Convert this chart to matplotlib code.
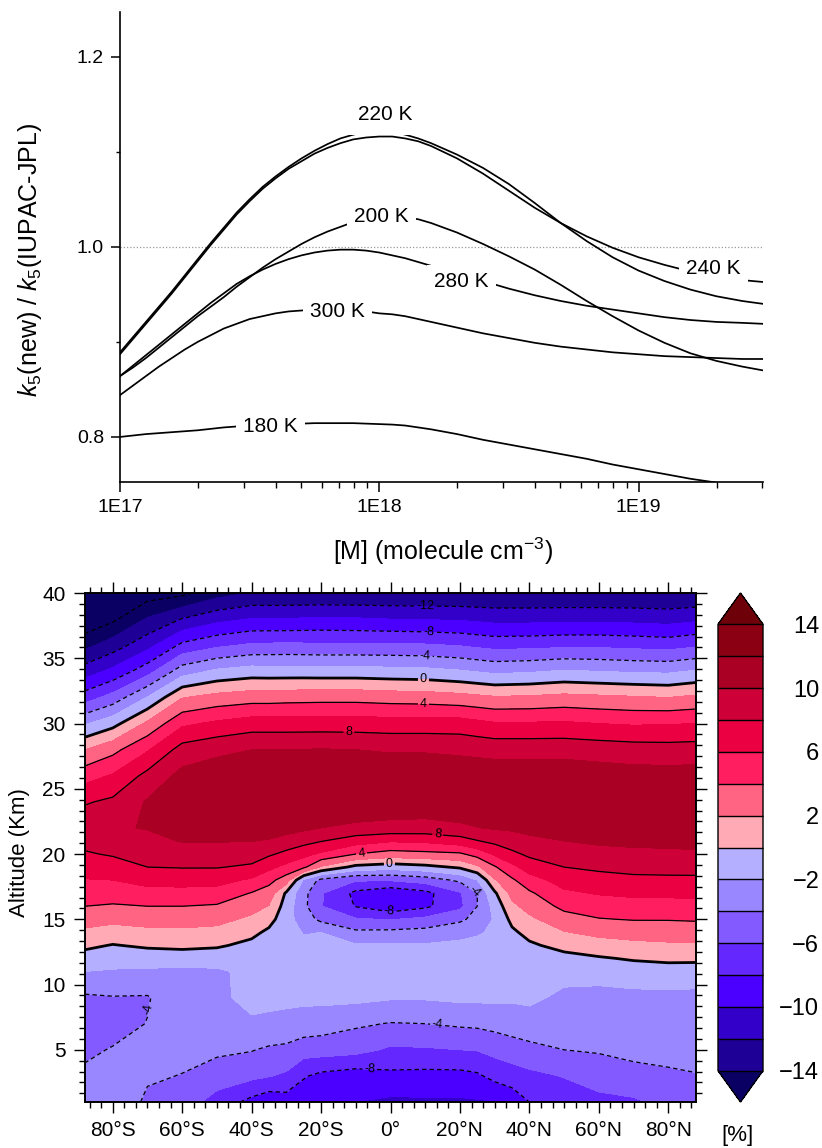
import numpy as np
import matplotlib
matplotlib.use("Agg")
import matplotlib.pyplot as plt
from matplotlib.ticker import AutoMinorLocator, FixedLocator, FuncFormatter, LogLocator, NullFormatter

plt.rcParams["font.family"] = ["Liberation Sans", "DejaVu Sans"]
plt.rcParams["mathtext.fontset"] = "custom"
plt.rcParams["mathtext.rm"] = "Liberation Sans"
plt.rcParams["mathtext.it"] = "Liberation Sans:italic"

# ---------------- top panel: k5(new)/k5(IUPAC-JPL) vs [M] ----------------
M_CONC = [1.000e17, 1.122e17, 1.259e17, 1.413e17, 1.585e17, 1.778e17, 1.995e17, 2.239e17,
          2.512e17, 2.818e17, 3.162e17, 3.548e17, 3.981e17, 4.467e17, 5.012e17, 5.623e17,
          6.310e17, 7.079e17, 7.943e17, 8.913e17, 1.000e18, 1.122e18, 1.259e18, 1.413e18,
          1.585e18, 1.995e18, 2.512e18, 3.162e18, 3.981e18, 5.012e18, 6.310e18, 7.943e18,
          1.000e19, 1.259e19, 1.585e19, 1.995e19, 2.512e19, 3.020e19]

RATIO_180K = [0.800, 0.8015, 0.803, 0.804, 0.805, 0.806, 0.807, 0.8085, 0.810, 0.811,
              0.812, 0.8125, 0.813, 0.8135, 0.814, 0.8145, 0.8145, 0.8145, 0.8145, 0.814,
              0.8135, 0.813, 0.812, 0.810, 0.808, 0.803, 0.797, 0.792, 0.787, 0.782,
              0.777, 0.771, 0.766, 0.761, 0.756, 0.752, 0.748, 0.745]
RATIO_200K = [0.864, 0.873, 0.883, 0.894, 0.905, 0.916, 0.927, 0.937, 0.947, 0.958,
              0.968, 0.978, 0.987, 0.995, 1.003, 1.010, 1.016, 1.021, 1.026, 1.029,
              1.031, 1.032, 1.031, 1.029, 1.025, 1.015, 1.003, 0.990, 0.976, 0.960,
              0.943, 0.927, 0.912, 0.899, 0.888, 0.880, 0.874, 0.870]
RATIO_220K = [0.889, 0.905, 0.921, 0.937, 0.953, 0.970, 0.987, 1.004, 1.020, 1.036,
              1.050, 1.063, 1.074, 1.084, 1.093, 1.101, 1.108, 1.114, 1.118, 1.121,
              1.122, 1.121, 1.118, 1.114, 1.109, 1.097, 1.083, 1.066, 1.046, 1.025,
              1.006, 0.989, 0.975, 0.964, 0.955, 0.948, 0.943, 0.940]
RATIO_240K = [0.887, 0.903, 0.919, 0.935, 0.951, 0.968, 0.985, 1.002, 1.018, 1.034,
              1.048, 1.061, 1.072, 1.082, 1.090, 1.098, 1.104, 1.109, 1.113, 1.115,
              1.116, 1.116, 1.114, 1.111, 1.106, 1.093, 1.077, 1.059, 1.041, 1.025,
              1.011, 0.999, 0.989, 0.981, 0.974, 0.969, 0.965, 0.963]
RATIO_280K = [0.864, 0.875, 0.886, 0.897, 0.908, 0.919, 0.930, 0.941, 0.951, 0.961,
              0.969, 0.976, 0.982, 0.987, 0.991, 0.994, 0.996, 0.997, 0.997, 0.996,
              0.994, 0.991, 0.988, 0.984, 0.980, 0.972, 0.964, 0.956, 0.949, 0.943,
              0.938, 0.934, 0.930, 0.926, 0.923, 0.921, 0.920, 0.919]
RATIO_300K = [0.844, 0.854, 0.864, 0.874, 0.883, 0.892, 0.900, 0.907, 0.914, 0.919,
              0.924, 0.927, 0.930, 0.932, 0.933, 0.934, 0.934, 0.934, 0.933, 0.932,
              0.930, 0.929, 0.927, 0.924, 0.921, 0.915, 0.909, 0.904, 0.899, 0.895,
              0.892, 0.889, 0.887, 0.885, 0.884, 0.883, 0.882, 0.882]

# ---------------- bottom panel: zonal-mean change [%] ----------------
LATS = [-88, -80, -70, -60, -50, -40, -35, -30, -25, -20, -10, 0, 10, 20, 25, 30, 35,
        40, 50, 60, 70, 80, 88]
ALTS = [1, 3, 5, 7, 9, 11, 12, 13, 14, 15, 16, 17, 18, 19, 20, 21, 22, 24, 26, 28,
        30, 32, 34, 36, 38, 40]
# one altitude profile per latitude (bottom -> top)
CHANGE_BY_LAT = [
    [-3.4, -3.7, -4.3, -5.0, -4.3, -2.0, -0.8, 0.4, 1.6, 2.8, 4.0, 5.0, 5.9, 6.9, 7.8, 8.6, 9.4, 7.8, 5.2, 2.0, -2.2, -7.0, -11.0, -14.6, -17.7, -19.5],
    [-2.8, -3.2, -3.9, -4.6, -4.1, -2.2, -1.1, -0.1, 1.2, 2.5, 3.8, 4.9, 6.0, 7.1, 8.2, 9.3, 9.8, 8.4, 6.2, 3.4, -0.7, -5.2, -9.5, -13.0, -16.4, -19.0],
    [-4.3, -3.8, -3.4, -3.95, -4.15, -2.3, -1.1, 0.3, 1.5, 2.8, 4.0, 5.3, 6.7, 8.0, 8.8, 9.5, 10.1, 10.2, 8.6, 5.8, 2.4, -1.9, -6.8, -10.7, -13.8, -17.0],
    [-5.0, -4.05, -3.56, -3.1, -2.6, -2.4, -1.1, 0.5, 1.6, 2.8, 4.0, 5.35, 6.75, 8.1, 9.1, 10.1, 10.6, 11.0, 10.6, 8.8, 5.6, 1.9, -2.9, -7.55, -11.9, -16.5],
    [-6.8, -5.0, -3.6, -2.7, -2.3, -2.3, -1.1, 0.25, 1.4, 2.6, 3.8, 5.2, 6.7, 8.1, 9.1, 10.1, 11.0, 11.5, 11.2, 9.5, 6.4, 2.7, -1.6, -6.4, -10.6, -14.8],
    [-8.6, -5.5, -3.9, -2.2, -1.6, -1.5, -1.2, -0.5, 0.5, 1.6, 2.75, 3.9, 5.7, 7.7, 8.9, 10.05, 11.0, 11.6, 11.5, 10.0, 7.0, 3.1, -1.05, -5.7, -9.9, -13.9],
    [-9.4, -5.9, -4.3, -2.3, -1.65, -1.5, -1.3, -0.9, -0.4, 0.7, 1.9, 3.1, 4.6, 6.5, 8.3, 9.85, 10.9, 11.6, 11.5, 10.0, 7.0, 3.1, -1.1, -5.65, -9.9, -13.9],
    [-9.0, -6.3, -4.5, -2.4, -1.7, -1.5, -1.4, -1.4, -1.3, -1.2, -0.9, -0.3, 3.0, 5.45, 7.5, 9.25, 10.8, 11.6, 11.5, 10.0, 7.0, 3.2, -1.1, -5.6, -9.9, -13.9],
    [-9.4, -7.8, -5.1, -2.8, -1.6, -1.3, -1.3, -1.6, -2.1, -3.0, -3.5, -3.4, -2.3, 4.4, 6.6, 8.7, 10.4, 11.6, 11.55, 10.05, 7.0, 3.25, -1.1, -5.65, -9.8, -13.9],
    [-9.6, -8.5, -5.06, -3.1, -1.5, -1.2, -1.2, -1.4, -2.0, -4.5, -5.9, -5.8, -4.5, 1.8, 5.7, 8.1, 10.0, 11.6, 11.6, 10.1, 7.0, 3.3, -1.15, -5.7, -9.7, -13.9],
    [-10.0, -9.0, -5.35, -3.7, -1.5, -1.2, -1.3, -1.8, -3.6, -5.8, -8.1, -8.5, -5.8, -0.6, 4.0, 6.9, 9.6, 11.5, 11.6, 10.0, 7.0, 3.3, -1.15, -5.7, -9.8, -13.9],
    [-10.4, -8.5, -6.3, -4.1, -1.8, -1.0, -1.2, -1.8, -3.5, -6.1, -9.4, -9.6, -5.8, -1.1, 3.2, 6.2, 9.4, 11.3, 11.4, 9.8, 6.9, 3.1, -1.3, -5.7, -10.0, -13.9],
    [-10.3, -8.6, -6.2, -4.0, -1.8, -1.0, -1.2, -1.8, -3.3, -5.5, -8.4, -8.6, -5.1, -0.6, 3.45, 6.4, 9.3, 11.3, 11.4, 9.8, 6.9, 3.0, -1.4, -5.8, -10.1, -13.9],
    [-10.3, -8.6, -6.0, -3.7, -1.6, -1.0, -1.2, -1.6, -2.6, -4.4, -6.5, -6.2, -3.6, 0.3, 3.7, 7.1, 9.7, 11.2, 11.3, 9.6, 6.9, 2.7, -1.8, -6.1, -10.2, -13.9],
    [-10.2, -8.3, -5.9, -3.6, -1.6, -1.0, -1.2, -1.5, -2.2, -3.3, -4.0, -4.0, -2.0, 1.6, 4.8, 7.9, 9.95, 11.2, 11.25, 9.45, 6.55, 2.45, -2.1, -6.4, -10.4, -13.9],
    [-10.1, -7.4, -5.4, -3.35, -1.6, -1.1, -1.2, -1.4, -1.7, -1.8, -1.3, -0.3, 1.8, 3.8, 6.3, 8.55, 10.2, 11.2, 11.2, 9.3, 6.2, 2.2, -2.4, -6.7, -10.6, -13.9],
    [-9.2, -7.0, -4.9, -3.1, -1.7, -1.1, -1.0, -0.75, -0.35, 0.5, 1.55, 2.6, 3.7, 5.5, 7.55, 9.1, 10.3, 11.3, 11.2, 9.3, 6.2, 2.25, -2.3, -6.65, -10.6, -13.9],
    [-8.0, -6.5, -4.55, -2.83, -1.6, -1.0, -0.8, -0.3, 0.6, 1.6, 2.7, 3.7, 5.2, 6.9, 8.4, 9.6, 10.5, 11.4, 11.2, 9.3, 6.2, 2.3, -2.2, -6.6, -10.6, -13.9],
    [-7.2, -5.9, -4.0, -3.2, -2.4, -1.4, -0.6, 0.6, 1.9, 3.2, 4.5, 5.65, 6.8, 8.0, 9.0, 10.0, 10.8, 11.5, 11.2, 9.3, 6.3, 2.6, -1.8, -6.4, -10.5, -13.9],
    [-6.5, -5.2, -3.8, -3.1, -2.5, -1.4, -0.2, 1.2, 2.5, 3.9, 5.0, 6.15, 7.3, 8.35, 9.4, 10.3, 10.8, 11.4, 11.0, 9.1, 6.0, 2.4, -2.0, -6.4, -10.5, -13.9],
    [-6.3, -4.6, -3.5, -3.0, -2.5, -1.0, 0.2, 1.5, 2.8, 4.1, 5.2, 6.4, 7.55, 8.6, 9.6, 10.4, 10.8, 11.3, 10.8, 8.9, 5.8, 2.2, -2.2, -6.6, -10.6, -13.9],
    [-5.4, -4.3, -3.4, -2.9, -2.5, -0.9, 0.45, 1.7, 2.9, 4.1, 5.3, 6.4, 7.6, 8.65, 9.7, 10.4, 10.8, 11.3, 10.8, 8.8, 5.9, 2.0, -2.3, -6.8, -10.8, -13.9],
    [-5.8, -4.1, -3.3, -2.9, -2.5, -1.0, 0.45, 1.7, 2.9, 4.2, 5.3, 6.45, 7.6, 8.7, 9.8, 10.4, 10.8, 11.3, 10.8, 8.9, 6.0, 2.4, -1.8, -6.3, -10.4, -13.9],
]
FILL_LEVELS = [-14, -12, -10, -8, -6, -4, -2, 0, 2, 4, 6, 8, 10, 12, 14]
LINE_LEVELS = [-16, -12, -8, -4, 0, 4, 8]
CBAR_TICKS = [-14, -10, -6, -2, 2, 6, 10, 14]
LAT_TICKS = [-80, -60, -40, -20, 0, 20, 40, 60, 80]
LAT_LABELS = ["80°S", "60°S", "40°S", "20°S", "0°", "20°N", "40°N", "60°N", "80°N"]

FILL_COLORS = ["#0a0064", "#1e0096", "#3200c8", "#4b00ff", "#6428ff", "#825aff",
               "#9987ff", "#b4afff", "#ffaab4", "#ff6482", "#ff1e5f", "#eb0041",
               "#cd0037", "#aa0023", "#8c0014", "#6e000a"]

W, H = 822, 1148
fig = plt.figure(figsize=(W / 100, H / 100), dpi=100)

# ---------- top panel ----------
ax1 = fig.add_axes([120 / W, 1 - 482 / H, 643 / W, 470 / H])
ax1.set_xscale("log")
ax1.axhline(1.0, color="#9a9a9a", lw=0.9, ls=(0, (1, 1.6)), zorder=1)

for vals in (RATIO_180K, RATIO_200K, RATIO_220K, RATIO_280K, RATIO_300K):
    ax1.plot(M_CONC, vals, color="k", lw=1.25, zorder=2)
# 240 K sits above the 220 K label box
ax1.plot(M_CONC, RATIO_240K, color="k", lw=1.25, zorder=3.5)

label_spots = {"180 K": (3.8e17, 0.811), "200 K": (1.02e18, 1.032),
               "220 K": (1.05e18, 1.139), "280 K": (2.08e18, 0.963),
               "300 K": (6.9e17, 0.932), "240 K": (1.95e19, 0.977)}
for name, (xx, yy) in label_spots.items():
    pad = 0.5 if name == "220 K" else 0.35
    ax1.text(xx, yy, name, fontsize=15, ha="center", va="center",
             zorder=5 if name == "240 K" else 3,
             bbox=dict(boxstyle="square,pad=%.2f" % pad, fc="white", ec="none"))

ax1.set_xlim(1e17, 3.02e19)
ax1.set_ylim(0.7526, 1.247)
ax1.spines["top"].set_visible(False)
ax1.spines["right"].set_visible(False)
for s in ("left", "bottom"):
    ax1.spines[s].set_linewidth(1.2)
ax1.xaxis.set_major_locator(FixedLocator([1e17, 1e18, 1e19]))
ax1.xaxis.set_major_formatter(FuncFormatter(lambda v, p: "1E%d" % round(np.log10(v))))
ax1.xaxis.set_minor_locator(LogLocator(base=10, subs=np.arange(2, 10)))
ax1.xaxis.set_minor_formatter(NullFormatter())
ax1.set_yticks([0.8, 1.0, 1.2])
ax1.set_yticklabels(["0.8", "1.0", "1.2"])
ax1.set_yticks([0.9, 1.1], minor=True)
ax1.tick_params(which="major", direction="out", length=7, width=1.1, labelsize=14, pad=5)
ax1.tick_params(which="minor", direction="out", length=4, width=1.0)
ax1.tick_params(axis="y", which="major", length=6.5)
ax1.tick_params(axis="y", which="minor", length=3.2)

fig.text(30 / W, 1 - 260 / H, r"$k_5$(new) / $k_5$(IUPAC-JPL)", rotation=90,
         ha="center", va="center", fontsize=18)
fig.text(443 / W, 1 - 551 / H, r"[M] (molecule cm$^{-3}$)", ha="center", va="center",
         fontsize=18)

# ---------- bottom panel ----------
ax2 = fig.add_axes([85 / W, 46 / H, 611 / W, 509 / H])
field = np.array(CHANGE_BY_LAT).T
cf = ax2.contourf(LATS, ALTS, field, levels=FILL_LEVELS, colors=FILL_COLORS, extend="both")
styles = [(0, (3.5, 2.5)) if lv < 0 else "solid" for lv in LINE_LEVELS]
widths = [2.0 if lv == 0 else 0.9 for lv in LINE_LEVELS]
cs = ax2.contour(LATS, ALTS, field, levels=LINE_LEVELS, colors="k",
                 linestyles=styles, linewidths=widths)
label_pos = [(10, 38.95), (11, 37.1), (10, 35.2), (9.5, 33.35), (9.5, 31.55),
             (-12, 29.4), (13.6, 21.5), (-8.4, 20.2), (-0.3, 19.17), (-0.3, 15.65),
             (24.2, 17.1), (-69.8, 8.1), (13.6, 6.97), (-6.0, 3.6)]
ax2.clabel(cs, manual=label_pos, inline=True, inline_spacing=2, fontsize=9,
           fmt=lambda v: "%d" % v)

ax2.set_xlim(-88, 88)
ax2.set_ylim(1, 40)
ax2.set_xticks(LAT_TICKS)
ax2.set_xticklabels(LAT_LABELS)
ax2.set_yticks([5, 10, 15, 20, 25, 30, 35, 40])
ax2.xaxis.set_minor_locator(AutoMinorLocator(6))
ax2.yaxis.set_minor_locator(AutoMinorLocator(6))
ax2.tick_params(which="both", direction="out", top=True, right=True, width=1.0)
ax2.tick_params(which="major", length=8, labelsize=15, pad=6)
ax2.tick_params(which="minor", length=4)
for s in ax2.spines.values():
    s.set_linewidth(1.4)
fig.text(20 / W, 1 - 853 / H, "Altitude (Km)", rotation=90, ha="center",
         va="center", fontsize=16)

cax = fig.add_axes([718 / W, 46 / H, 45 / W, 509 / H])
cb = fig.colorbar(cf, cax=cax, ticks=CBAR_TICKS, drawedges=True, extendfrac=0.07)
cb.outline.set_linewidth(1.0)
cb.dividers.set_linewidth(1.0)
cax.tick_params(length=0, pad=40.5, labelsize=17)
for t in cax.get_yticklabels():
    t.set_horizontalalignment("right")
fig.text(737 / W, 1 - 1136 / H, "[%]", ha="center", va="center", fontsize=16)

fig.savefig("out.png", dpi=100)
